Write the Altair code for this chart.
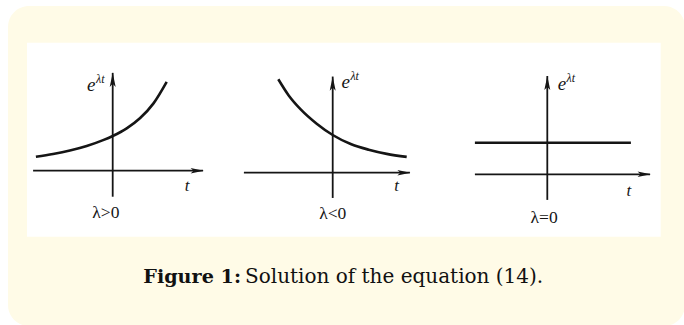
import altair as alt
import pandas as pd

# ---------------------------------------------------------------------------
# Solutions e^{λt} of the equation for the three signs of λ
# ---------------------------------------------------------------------------

# λ > 0 : growing solution (t, e^{λt})
grow_t = [-1.92, -1.49, -1.07, -0.65, -0.24, 0.0, 0.35, 0.68, 1.02, 1.35]
grow_e = [0.40, 0.48, 0.58, 0.71, 0.88, 1.00, 1.22, 1.51, 1.94, 2.56]

# λ < 0 : decaying solution
decay_t = [-1.36, -1.1, -0.8, -0.4, 0.0, 0.45, 0.9, 1.35, 1.85]
decay_e = [2.48, 2.05, 1.68, 1.30, 1.00, 0.76, 0.61, 0.50, 0.42]

# λ = 0 : constant solution
const_t = [-1.81, 2.09]
const_e = [1.0, 1.0]

conditions = ["λ>0", "λ<0", "λ=0"]
y_name = "e"
y_name_sup = "λt"
x_name = "t"

# extent of the drawn coordinate axes in each panel (t-axis, e-axis)
t_axis_extent = [(-1.99, 2.26), (-2.22, 1.93), (-1.81, 2.57)]
e_axis_extent = [(-0.75, 2.82), (-0.67, 2.55), (-0.81, 3.11)]

# label anchors in panel units: (y-name), (t-name), (condition)
y_name_pos = [(-0.43, 2.31), (0.43, 2.25), (0.47, 2.67)]
x_name_pos = [(1.86, -0.59), (1.6, -0.49), (2.04, -0.69)]
cond_pos = [(-0.17, -1.36), (0.0, -1.23), (-0.08, -1.54)]

caption_bold = ["Figure 1:"]
caption_rest = ["Solution of the equation (14)."]

# ---------------------------------------------------------------------------
# layout / style
# ---------------------------------------------------------------------------
W, H = 684, 325
PX_T = 40.0                                   # pixels per unit of t
ORIGINS = [(112.7, 170.7), (332.7, 172.7), (547.3, 174.3)]   # pixel of (0, 0)
UNIT_E = [34.7, 37.7, 31.6]                   # pixels per unit of e^{λt}
CREAM = "#fffbe7"
INK = "#151515"
SERIF = "Liberation Serif"
CAPTION_FONT = "DejaVu Serif"
ARROW = "M0,-1L0.42,1L0,0.55L-0.42,1Z"


def panel(t, e, k):
    ox, oy = ORIGINS[k]
    uy = UNIT_E[k]
    xs = alt.Scale(domain=[-ox / PX_T, (W - ox) / PX_T], nice=False, zero=False)
    ys = alt.Scale(domain=[-(H - oy) / uy, oy / uy], nice=False, zero=False)

    def X(f):
        return alt.X(f, type="quantitative", scale=xs, axis=None)

    def Y(f):
        return alt.Y(f, type="quantitative", scale=ys, axis=None)

    t0, t1 = t_axis_extent[k]
    e0, e1 = e_axis_extent[k]

    t_axis = alt.Chart(pd.DataFrame({"t0": [t0], "t1": [t1], "e": [0.0]})).mark_rule(
        color=INK, strokeWidth=1.8
    ).encode(x=X("t0"), x2="t1", y=Y("e"))

    e_axis = alt.Chart(pd.DataFrame({"t": [0.0], "e0": [e0], "e1": [e1]})).mark_rule(
        color=INK, strokeWidth=1.8
    ).encode(x=X("t"), y=Y("e0"), y2="e1")

    up_head = alt.Chart(pd.DataFrame({"t": [0.0], "e": [e1]})).mark_point(
        shape=ARROW, filled=True, size=200, color=INK, opacity=1, yOffset=7
    ).encode(x=X("t"), y=Y("e"))

    right_head = alt.Chart(pd.DataFrame({"t": [t1], "e": [0.0]})).mark_point(
        shape=ARROW, filled=True, size=170, color=INK, opacity=1, angle=90, xOffset=-6
    ).encode(x=X("t"), y=Y("e"))

    curve = alt.Chart(pd.DataFrame({"t": t, "e": e})).mark_line(
        color=INK, strokeWidth=2.6, interpolate="monotone"
    ).encode(x=X("t"), y=Y("e"), order="t:Q")

    yx, yy = y_name_pos[k]
    name_df = pd.DataFrame({"t": [yx], "e": [yy], "base": [y_name], "sup": [y_name_sup]})
    e_name = alt.Chart(name_df).mark_text(
        font=SERIF, fontStyle="italic", fontSize=19, align="right",
        baseline="alphabetic", color=INK
    ).encode(x=X("t"), y=Y("e"), text="base")
    e_sup = alt.Chart(name_df).mark_text(
        font=SERIF, fontStyle="italic", fontSize=12, align="left",
        baseline="alphabetic", color=INK, dy=-8, dx=0.5
    ).encode(x=X("t"), y=Y("e"), text="sup")

    tx, ty = x_name_pos[k]
    t_name = alt.Chart(pd.DataFrame({"t": [tx], "e": [ty], "s": [x_name]})).mark_text(
        font=SERIF, fontStyle="italic", fontSize=17, align="center",
        baseline="alphabetic", color=INK
    ).encode(x=X("t"), y=Y("e"), text="s")

    cx, cy = cond_pos[k]
    cond = alt.Chart(pd.DataFrame({"t": [cx], "e": [cy], "s": [conditions[k]]})).mark_text(
        font=SERIF, fontSize=17.5, align="center", baseline="alphabetic", color=INK
    ).encode(x=X("t"), y=Y("e"), text="s")

    return alt.layer(t_axis, e_axis, up_head, right_head, curve, e_name, e_sup, t_name, cond)


frame_df = pd.DataFrame({"part": ["frame"]})
frame = alt.Chart(frame_df).mark_rect(color=CREAM, cornerRadius=21).encode(
    x=alt.value(8), x2=alt.value(685), y=alt.value(6), y2=alt.value(326)
)
sheet = alt.Chart(frame_df).mark_rect(color="white").encode(
    x=alt.value(27), x2=alt.value(660.7), y=alt.value(42.7), y2=alt.value(236.7)
)

cap_bold = alt.Chart(pd.DataFrame({"s": caption_bold})).mark_text(
    font=CAPTION_FONT, fontWeight="bold", fontSize=19.2, align="right",
    baseline="alphabetic", color="#111111"
).encode(x=alt.value(241), y=alt.value(283), text="s")
cap_rest = alt.Chart(pd.DataFrame({"s": caption_rest})).mark_text(
    font=CAPTION_FONT, fontSize=20, align="left", baseline="alphabetic", color="#111111"
).encode(x=alt.value(245), y=alt.value(283), text="s")

chart = alt.layer(
    frame,
    sheet,
    panel(grow_t, grow_e, 0),
    panel(decay_t, decay_e, 1),
    panel(const_t, const_e, 2),
    cap_bold,
    cap_rest,
).resolve_scale(x="independent", y="independent").properties(
    width=W, height=H, padding=0,
    autosize=alt.AutoSizeParams(type="none"),
    background="white",
).configure_view(stroke=None)

chart.save("out.html", embed_options={"renderer": "svg", "actions": False})
